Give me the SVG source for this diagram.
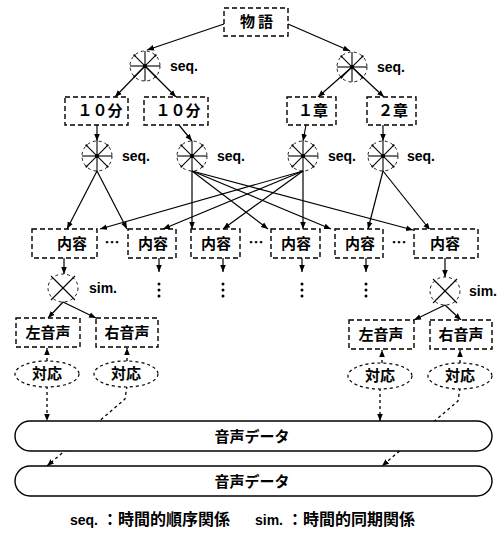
<svg xmlns="http://www.w3.org/2000/svg" xmlns:xlink="http://www.w3.org/1999/xlink" width="502" height="533" viewBox="0 0 502 533">
<style>
.box{fill:#fff;stroke:#000;stroke-width:1.4;stroke-dasharray:5 3}
.ell{fill:#fff;stroke:#000;stroke-width:1.2;stroke-dasharray:3 3}
.circ{fill:none;stroke:#000;stroke-width:0.9;stroke-dasharray:3 3}
.sp{stroke:#000;stroke-width:1.1}
.ln{fill:none;stroke:#000;stroke-width:1.2;marker-end:url(#ah)}
.dl{fill:none;stroke:#000;stroke-width:1.3;stroke-dasharray:3 3;marker-end:url(#ah)}
.bar{fill:#fff;stroke:#000;stroke-width:1.4}
.jp{font-family:"Noto Sans CJK JP","Noto Sans CJK SC",sans-serif;font-weight:bold;font-size:15px;text-anchor:middle;fill:#000}
.lb{font-family:"Liberation Sans",Arial,sans-serif;font-weight:bold;font-size:14px;fill:#000}
.lg{font-family:"Liberation Sans","Noto Sans CJK JP",sans-serif;font-weight:bold;font-size:14px;fill:#000}
.lgj{font-family:"Noto Sans CJK JP","Noto Sans CJK SC",sans-serif;font-size:16px}
</style>
<defs>
<marker id="ah" viewBox="0 0 10 10" refX="10" refY="5" markerWidth="7" markerHeight="7" orient="auto" markerUnits="userSpaceOnUse"><path d="M0,1 L10,5 L0,9 z" fill="#000"/></marker>
<g id="star">
<circle class="circ" r="15"/>
<line class="sp" x1="-15" y1="0" x2="15" y2="0"/>
<line class="sp" x1="0" y1="-15" x2="0" y2="15"/>
<line class="sp" x1="-10.6" y1="-10.6" x2="10.6" y2="10.6"/>
<line class="sp" x1="-10.6" y1="10.6" x2="10.6" y2="-10.6"/>
<circle r="2" fill="#000"/>
<circle cx="-10.6" cy="-10.6" r="1.1" fill="#000"/>
<circle cx="10.6" cy="10.6" r="1.1" fill="#000"/>
<circle cx="-10.6" cy="10.6" r="1.1" fill="#000"/>
<circle cx="10.6" cy="-10.6" r="1.1" fill="#000"/>
</g>
<g id="cross">
<ellipse class="circ" rx="15" ry="14"/>
<line class="sp" x1="-12" y1="-12" x2="12" y2="12"/>
<line class="sp" x1="-12" y1="12" x2="12" y2="-12"/>
</g>
</defs>

<g id="connectors">
<line class="ln" x1="224" y1="24" x2="147" y2="50"/>
<line class="ln" x1="288" y1="24" x2="350" y2="51"/>
<line class="ln" x1="145" y1="66" x2="115" y2="97"/>
<line class="ln" x1="145" y1="66" x2="176" y2="97"/>
<line class="ln" x1="352" y1="67" x2="318" y2="97"/>
<line class="ln" x1="352" y1="67" x2="384" y2="97"/>
<line class="ln" x1="97" y1="125" x2="97" y2="141"/>
<line class="ln" x1="179" y1="125" x2="192" y2="141"/>
<line class="ln" x1="306" y1="125" x2="303" y2="141"/>
<line class="ln" x1="383" y1="125" x2="383" y2="141"/>
<line class="ln" x1="97" y1="171" x2="67" y2="229"/>
<line class="ln" x1="97" y1="171" x2="127" y2="229"/>
<line class="ln" x1="192" y1="171" x2="192" y2="229"/>
<line class="ln" x1="192" y1="171" x2="268" y2="229"/>
<line class="ln" x1="192" y1="171" x2="331" y2="229"/>
<line class="ln" x1="192" y1="171" x2="413" y2="230"/>
<line class="ln" x1="303" y1="171" x2="100" y2="229"/>
<line class="ln" x1="303" y1="171" x2="163" y2="229"/>
<line class="ln" x1="303" y1="171" x2="223" y2="229"/>
<line class="ln" x1="303" y1="171" x2="303" y2="229"/>
<line class="ln" x1="383" y1="171" x2="368" y2="229"/>
<line class="ln" x1="383" y1="171" x2="430" y2="230"/>
<line class="ln" x1="64" y1="258" x2="64" y2="274"/>
<line class="ln" x1="159" y1="258" x2="159" y2="272"/>
<line class="ln" x1="223" y1="258" x2="223" y2="272"/>
<line class="ln" x1="302" y1="258" x2="302" y2="272"/>
<line class="ln" x1="366" y1="258" x2="366" y2="272"/>
<line class="ln" x1="445" y1="258" x2="445" y2="277"/>
<line class="ln" x1="63" y1="302" x2="48" y2="318"/>
<line class="ln" x1="63" y1="302" x2="96" y2="318"/>
<line class="ln" x1="445" y1="305" x2="414" y2="320"/>
<line class="ln" x1="445" y1="305" x2="461" y2="320"/>
<line class="dl" x1="47" y1="361" x2="47" y2="348"/>
<line class="dl" x1="127" y1="361" x2="127" y2="348"/>
<line class="dl" x1="382" y1="363" x2="382" y2="350"/>
<line class="dl" x1="460" y1="363" x2="460" y2="350"/>
<line class="dl" x1="47" y1="386" x2="47" y2="421"/>
<path class="dl" d="M127,386 L125,399 L47,466"/>
<line class="dl" x1="380" y1="388" x2="380" y2="421"/>
<path class="dl" d="M460,388 L458,401 L382,466"/>
</g>

<g id="n-story"><rect class="box" x="224" y="8" width="64" height="28"/><text class="jp" x="258" y="27" letter-spacing="3">物語</text></g>
<g id="seq-a"><use xlink:href="#star" x="145" y="66"/><text class="lb" x="170" y="71">seq.</text></g>
<g id="seq-b"><use xlink:href="#star" x="352" y="67"/><text class="lb" x="377" y="72">seq.</text></g>
<g id="n-10a"><rect class="box" x="65" y="97" width="63" height="28"/><text class="jp" x="100" y="116">１０分</text></g>
<g id="n-10b"><rect class="box" x="144" y="97" width="64" height="28"/><text class="jp" x="178" y="116">１０分</text></g>
<g id="n-ch1"><rect class="box" x="287" y="97" width="49" height="28"/><text class="jp" x="313" y="116">１章</text></g>
<g id="n-ch2"><rect class="box" x="367" y="97" width="49" height="28"/><text class="jp" x="393" y="116">２章</text></g>
<g id="seq-1"><use xlink:href="#star" x="97" y="156"/><text class="lb" x="122" y="161">seq.</text></g>
<g id="seq-2"><use xlink:href="#star" x="192" y="156"/><text class="lb" x="217" y="161">seq.</text></g>
<g id="seq-3"><use xlink:href="#star" x="303" y="156"/><text class="lb" x="328" y="161">seq.</text></g>
<g id="seq-4"><use xlink:href="#star" x="383" y="156"/><text class="lb" x="407" y="161">seq.</text></g>
<g id="c1"><rect class="box" x="32" y="229" width="65" height="29"/><text class="jp" x="72" y="249">内容</text></g>
<g id="c2"><rect class="box" x="128" y="229" width="48" height="29"/><text class="jp" x="153" y="249">内容</text></g>
<g id="c3"><rect class="box" x="191" y="229" width="49" height="29"/><text class="jp" x="216" y="249">内容</text></g>
<g id="c4"><rect class="box" x="271" y="229" width="49" height="29"/><text class="jp" x="296" y="249">内容</text></g>
<g id="c5"><rect class="box" x="335" y="229" width="48" height="29"/><text class="jp" x="360" y="249">内容</text></g>
<g id="c6"><rect class="box" x="414" y="229" width="64" height="29"/><text class="jp" x="445" y="249">内容</text></g>
<g id="ellipses">
<text class="jp" x="112" y="248">…</text>
<text class="jp" x="256" y="248">…</text>
<text class="jp" x="399" y="248">…</text>
<g fill="#000">
<circle cx="159" cy="284" r="1.5"/><circle cx="159" cy="290" r="1.5"/><circle cx="159" cy="296" r="1.5"/>
<circle cx="223" cy="284" r="1.5"/><circle cx="223" cy="290" r="1.5"/><circle cx="223" cy="296" r="1.5"/>
<circle cx="302" cy="284" r="1.5"/><circle cx="302" cy="290" r="1.5"/><circle cx="302" cy="296" r="1.5"/>
<circle cx="366" cy="284" r="1.5"/><circle cx="366" cy="290" r="1.5"/><circle cx="366" cy="296" r="1.5"/>
</g>
</g>
<g id="sim-l"><use xlink:href="#cross" x="63" y="288"/><text class="lb" x="89" y="293">sim.</text></g>
<g id="sim-r"><use xlink:href="#cross" x="445" y="291"/><text class="lb" x="469" y="296">sim.</text></g>
<g id="l-left"><rect class="box" x="16" y="318" width="64" height="29"/><text class="jp" x="48" y="338">左音声</text></g>
<g id="l-right"><rect class="box" x="96" y="318" width="62" height="29"/><text class="jp" x="127" y="338">右音声</text></g>
<g id="r-left"><rect class="box" x="349" y="320" width="65" height="29"/><text class="jp" x="381" y="340">左音声</text></g>
<g id="r-right"><rect class="box" x="430" y="320" width="62" height="29"/><text class="jp" x="461" y="340">右音声</text></g>
<g id="corr1"><ellipse class="ell" cx="47" cy="374" rx="32" ry="13"/><text class="jp" x="47" y="379">対応</text></g>
<g id="corr2"><ellipse class="ell" cx="126" cy="374" rx="32" ry="13"/><text class="jp" x="126" y="379">対応</text></g>
<g id="corr3"><ellipse class="ell" cx="380" cy="376" rx="32" ry="13"/><text class="jp" x="380" y="381">対応</text></g>
<g id="corr4"><ellipse class="ell" cx="460" cy="376" rx="32" ry="13"/><text class="jp" x="460" y="381">対応</text></g>
<g id="data1"><rect class="bar" x="15" y="421" width="477" height="30" rx="15" ry="15"/><text class="jp" x="252" y="442">音声データ</text></g>
<g id="data2"><rect class="bar" x="15" y="466" width="477" height="30" rx="15" ry="15"/><text class="jp" x="252" y="487">音声データ</text></g>
<g id="legend">
<text class="lg" x="70" y="525">seq. <tspan class="lgj">：時間的順序関係</tspan></text>
<text class="lg" x="255" y="525">sim. <tspan class="lgj">：時間的同期関係</tspan></text>
</g>
</svg>
